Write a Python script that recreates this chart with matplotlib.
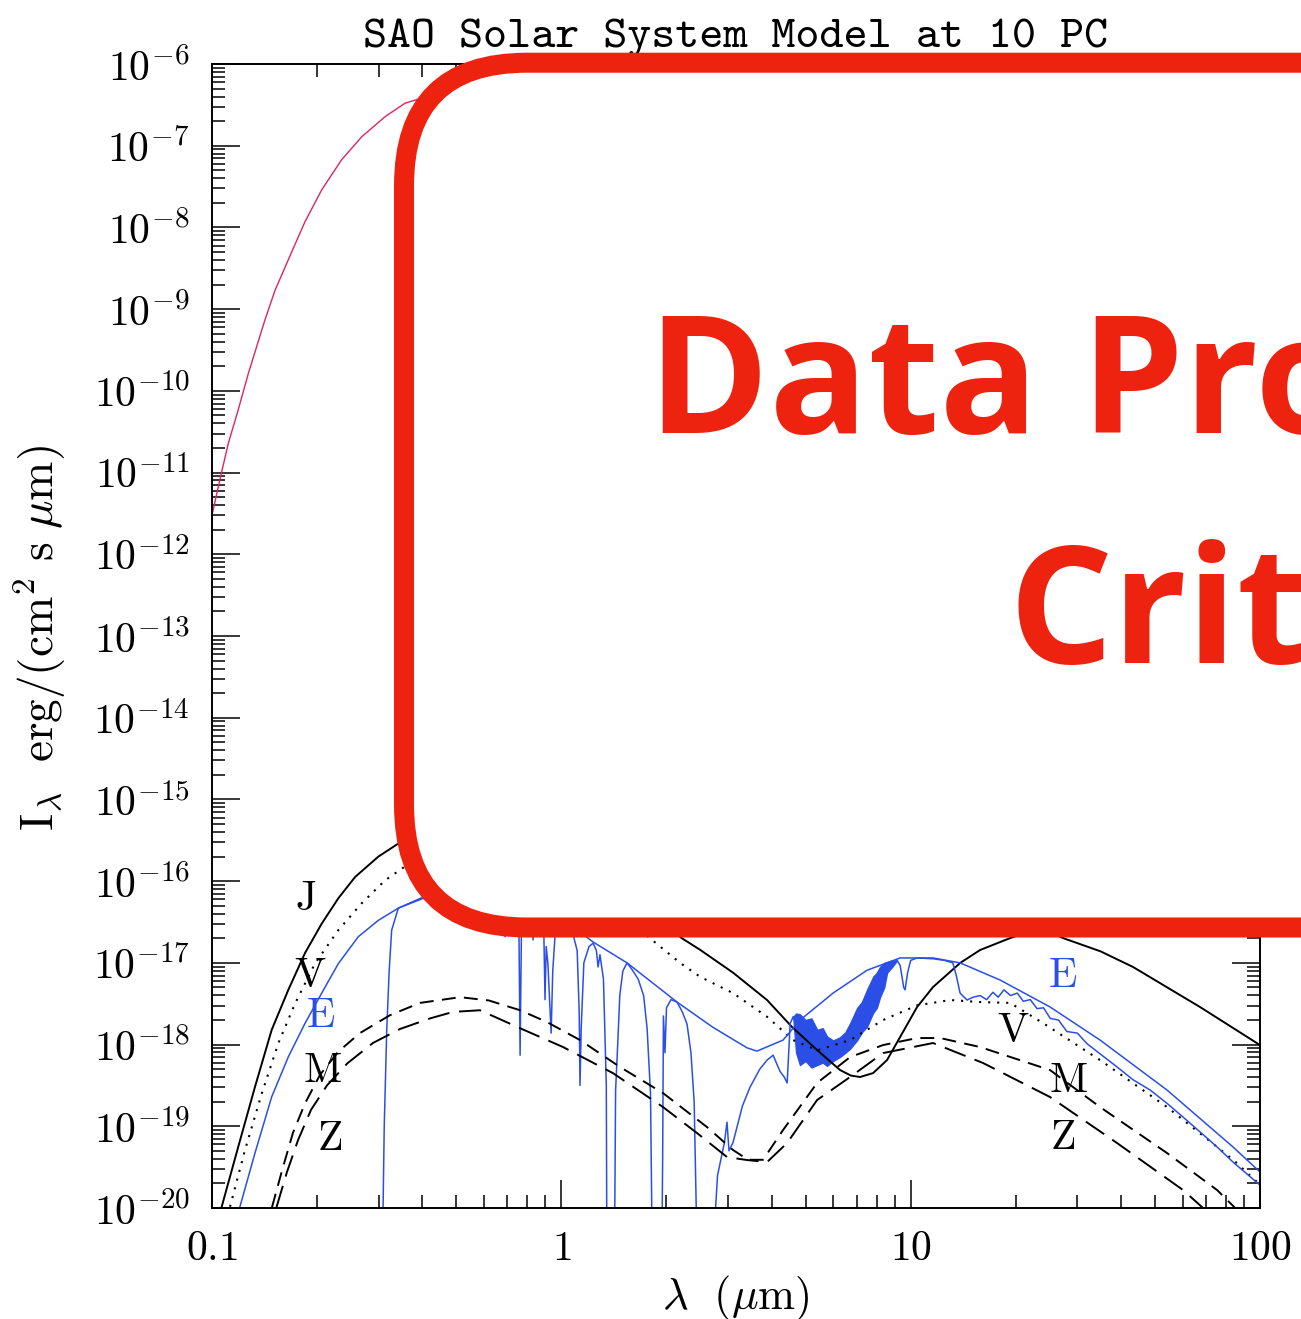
#%% Load modules
import numpy as np
import matplotlib as mpl
import matplotlib.pyplot as plt
from matplotlib.patches import FancyBboxPatch
from matplotlib.ticker import LogLocator, NullFormatter

#%% Curves: wavelength (micron) and log10 I_lambda
sun_lam = [0.100, 0.1066, 0.1114, 0.1189, 0.1270, 0.1418, 0.1515, 0.1691, 0.1846, 0.2061,
           0.2351, 0.2684, 0.3129, 0.3568, 0.4256, 0.50, 0.60, 0.76, 1.01, 1.5, 2.0, 3.0, 4.0,
           6.0, 10.0, 20.0, 30.0, 60.0, 100.0]
sun_logI = [-11.52, -10.99, -10.64, -10.23, -9.79, -9.13, -8.77, -8.30, -7.93, -7.54, -7.17,
            -6.89, -6.645, -6.48, -6.38, -6.35, -6.37, -6.45, -6.75, -7.15, -7.60, -8.20, -8.70,
            -9.45, -10.30, -11.50, -12.20, -13.40, -14.30]

jup_lam = [0.1066, 0.1189, 0.1327, 0.1482, 0.1654, 0.1846, 0.2061, 0.2299, 0.2567, 0.2993,
           0.3415, 0.42, 0.50, 0.70, 1.00, 1.50, 2.216, 2.495, 3.101, 3.881, 4.577, 5.396,
           6.281, 6.75, 7.164, 7.806, 8.56, 9.327, 10.43, 11.59, 13.85, 15.80, 19.26, 23.5,
           27.32, 35.0, 43.33, 67.38, 100.0]
jup_logI = [-19.985, -19.25, -18.52, -17.82, -17.33, -16.88, -16.52, -16.21, -15.95, -15.70,
            -15.54, -15.40, -15.33, -15.40, -15.70, -16.12, -16.70, -16.84, -17.12, -17.455,
            -17.786, -18.067, -18.312, -18.38, -18.397, -18.349, -18.189, -17.908, -17.541,
            -17.296, -17.002, -16.843, -16.697, -16.574, -16.697, -16.86, -17.051, -17.541,
            -18.006]

ven_lam = [0.1126, 0.1243, 0.1388, 0.1548, 0.1728, 0.1970, 0.2299, 0.2684, 0.3129, 0.3568,
           0.45, 0.55, 0.75, 1.00, 1.40, 1.795, 2.187, 2.495, 3.101, 3.881, 4.607, 5.40, 6.708,
           8.337, 10.43, 12.97, 15.80, 19.26, 23.93, 34.85, 54.2, 83.75, 98.8]
ven_logI = [-19.985, -19.29, -18.60, -17.985, -17.50, -17.01, -16.60, -16.27, -15.99, -15.82,
            -15.68, -15.64, -15.72, -15.92, -16.30, -16.70, -17.00, -17.17, -17.37, -17.66,
            -17.945, -18.07, -17.945, -17.70, -17.52, -17.455, -17.48, -17.49, -17.737, -18.19,
            -18.765, -19.41, -19.695]

# Earth: smooth envelope
earth_lam = [0.1202, 0.1327, 0.1482, 0.1654, 0.1846, 0.2061, 0.2299, 0.2623, 0.2993, 0.3415,
             0.4256, 0.55, 0.75, 1.00, 1.233, 1.542, 2.144, 2.719, 3.401, 3.632, 4.312, 4.824,
             5.997, 7.503, 9.327, 11.59, 13.85, 18.03, 25.06, 34.85, 54.2, 83.75, 100.0]
earth_logI = [-19.985, -19.33, -18.64, -18.15, -17.74, -17.37, -17.01, -16.68, -16.48, -16.33,
              -16.17, -16.08, -16.20, -16.45, -16.745, -17.00, -17.48, -17.79, -18.04, -18.08,
              -17.945, -17.70, -17.37, -17.09, -16.94, -16.94, -17.00, -17.21, -17.54, -17.945,
              -18.557, -19.254, -19.56]

# Earth: detailed spectrum, UV to 4.6 micron
earth_uv_lam = [0.3076, 0.3112, 0.3164, 0.3215, 0.3268, 0.3415, 0.40, 0.50, 0.60, 0.685, 0.690,
                0.695, 0.755, 0.762, 0.770, 0.825, 0.830, 0.835, 0.890, 0.898, 0.905, 0.915,
                0.935, 0.945, 0.96, 1.08, 1.11, 1.125, 1.131, 1.14, 1.16, 1.20, 1.233, 1.26,
                1.274, 1.29, 1.32, 1.345, 1.35, 1.42, 1.43, 1.45, 1.47, 1.50, 1.542, 1.58,
                1.604, 1.66, 1.72, 1.76, 1.80, 1.82, 1.94, 1.95, 1.96, 1.98, 2.00, 2.06, 2.144,
                2.22, 2.29, 2.35, 2.40, 2.446, 2.72, 2.80, 2.93, 2.98, 3.02, 3.10, 3.30, 3.47,
                3.70, 3.88, 4.04, 4.15, 4.23, 4.35, 4.43, 4.52, 4.61]
earth_uv_logI = [-20.5, -19.0, -17.82, -17.10, -16.60, -16.33, -16.20, -16.10, -16.10, -16.20,
                 -16.68, -16.22, -16.28, -18.13, -16.32, -16.40, -16.72, -16.42, -16.50, -17.45,
                 -16.80, -17.00, -17.86, -17.10, -16.65, -16.65, -16.85, -17.60, -18.50, -17.80,
                 -17.00, -16.80, -16.76, -16.85, -17.05, -16.90, -17.20, -18.50, -20.5, -20.5,
                 -18.56, -18.00, -17.40, -17.10, -17.00, -17.06, -17.10, -17.20, -17.40, -17.80,
                 -18.60, -20.5, -20.5, -19.40, -17.65, -18.10, -17.55, -17.45, -17.48, -17.60,
                 -17.75, -18.10, -18.70, -20.5, -20.5, -19.60, -19.20, -18.95, -19.30, -19.20,
                 -18.75, -18.52, -18.30, -18.19, -18.13, -18.25, -18.33, -18.40, -18.47, -17.74,
                 -17.66]

# Earth: dense 6 micron water band, upper and lower edges
band_lam = [4.61, 4.70, 4.82, 5.00, 5.20, 5.40, 5.60, 5.76, 6.00, 6.28, 6.50, 6.71, 7.03, 7.25,
            7.50, 7.81, 8.00, 8.17, 8.40, 8.56, 8.85, 9.14]
band_hi = [-17.66, -17.62, -17.63, -17.70, -17.68, -17.82, -17.80, -17.90, -17.95, -17.91,
           -17.85, -17.74, -17.55, -17.48, -17.33, -17.17, -17.12, -17.05, -17.00, -16.99,
           -16.97, -16.97]
band_lo = [-17.66, -18.10, -18.25, -18.20, -18.28, -18.25, -18.22, -18.26, -18.20, -18.15,
           -18.10, -18.05, -17.945, -17.85, -17.78, -17.61, -17.55, -17.42, -17.30, -17.12,
           -17.05, -16.97]

# Earth: detailed spectrum beyond 9 micron
earth_ir_lam = [9.14, 9.33, 9.55, 9.64, 9.80, 10.0, 10.43, 11.6, 12.5, 13.2, 13.5, 13.85, 14.5,
                15.1, 15.8, 16.5, 17.2, 17.8, 18.5, 19.3, 20.2, 21.0, 22.0, 23.0, 24.0, 25.1,
                26.5, 28.0, 30.0, 32.0, 35.0, 39.0, 43.3, 48.5, 54.2, 60.2, 67.4, 75.4, 83.8,
                100.0]
earth_ir_logI = [-16.97, -17.03, -17.30, -17.33, -17.12, -16.97, -16.94, -16.95, -16.97, -17.00,
                 -17.15, -17.37, -17.455, -17.42, -17.40, -17.45, -17.36, -17.42, -17.33, -17.40,
                 -17.37, -17.47, -17.45, -17.56, -17.55, -17.68, -17.70, -17.84, -17.86, -17.99,
                 -18.12, -18.275, -18.43, -18.557, -18.72, -18.887, -19.07, -19.254, -19.44,
                 -19.72]

mars_lam = [0.1485, 0.1587, 0.1705, 0.1846, 0.2038, 0.2294, 0.265, 0.3233, 0.394, 0.513, 0.62,
            0.762, 0.910, 1.131, 1.473, 1.955, 2.613, 3.101, 3.423, 3.780, 4.312, 5.396, 6.708,
            8.337, 10.43, 12.14, 15.80, 25.06, 34.85, 54.2, 75.4, 84.9]
mars_logI = [-19.99, -19.54, -19.08, -18.72, -18.37, -18.09, -17.86, -17.64, -17.49, -17.42,
             -17.46, -17.58, -17.725, -17.945, -18.275, -18.594, -19.01, -19.29, -19.41, -19.41,
             -19.046, -18.47, -18.153, -18.006, -17.92, -17.92, -18.03, -18.312, -18.765,
             -19.328, -19.781, -20.0]

zodi_lam = [0.153, 0.1639, 0.1763, 0.1920, 0.2134, 0.2440, 0.2890, 0.3450, 0.4208, 0.490,
            0.585, 0.762, 1.011, 1.406, 1.955, 2.446, 2.981, 3.401, 3.881, 4.429, 5.396, 6.708,
            8.337, 11.59, 16.12, 25.06, 38.98, 60.24, 68.7]
zodi_logI = [-19.99, -19.56, -19.17, -18.80, -18.50, -18.23, -17.98, -17.81, -17.68, -17.60,
             -17.58, -17.80, -18.03, -18.35, -18.765, -19.083, -19.377, -19.413, -19.438,
             -19.205, -18.679, -18.397, -18.104, -17.981, -18.226, -18.642, -19.205, -19.781,
             -20.0]

x_ticks = [0.1, 1, 10, 100]
x_ticklabels = ['0.1', '1', '10', '100']
y_exps = list(range(-20, -5))

# curve labels: text, wavelength, log10 I, colour
curve_labels = [('J', 0.185, -16.21, 'k'), ('V', 0.191, -17.15, 'k'), ('E', 0.204, -17.64, 'b'),
                ('M', 0.2065, -18.31, 'k'), ('Z', 0.2177, -19.14, 'k'),
                ('E', 27.3, -17.15, 'b'), ('V', 19.65, -17.82, 'k'),
                ('M', 28.2, -18.43, 'k'), ('Z', 27.3, -19.13, 'k')]

#%% Plot
mpl.rcParams['mathtext.fontset'] = 'cm'
mpl.rcParams['lines.scale_dashes'] = False
mpl.rcParams['axes.linewidth'] = 1.4

blue = '#2b4fe6'
red = '#ee230f'

fig = plt.figure(figsize=(13.01, 13.19), dpi=100)
ax = fig.add_axes([212 / 1301, 1 - 1208 / 1319, 1048 / 1301, 1144 / 1319])
ax.set_xscale('log')
ax.set_yscale('log')
ax.set_xlim(0.1, 100)
ax.set_ylim(1e-20, 1e-6)


def pts(lam, logI):
    return np.array(lam), 10.0 ** np.array(logI)


ax.plot(*pts(sun_lam, sun_logI), color='#e0245e', lw=1.0)
ax.plot(*pts(jup_lam, jup_logI), color='k', lw=1.4)
ax.plot(*pts(ven_lam, ven_logI), color='k', lw=1.5, dashes=(1.5, 5.0))
ax.plot(*pts(earth_lam, earth_logI), color=blue, lw=1.1)
ax.plot(*pts(earth_uv_lam, earth_uv_logI), color=blue, lw=1.1)
ax.fill_between(band_lam, 10.0 ** np.array(band_hi), 10.0 ** np.array(band_lo),
                color=blue, lw=1.0)
ax.plot(*pts(earth_ir_lam, earth_ir_logI), color=blue, lw=1.1)
ax.plot(*pts(mars_lam, mars_logI), color='k', lw=1.4, dashes=(10, 6))
ax.plot(*pts(zodi_lam, zodi_logI), color='k', lw=1.4, dashes=(16, 7))

for txt, lam, logI, c in curve_labels:
    ax.text(lam, 10.0 ** logI, r'$\mathrm{%s}$' % txt, fontsize=30, ha='center',
            va='center', color=blue if c == 'b' else 'k')

ax.set_xticks(x_ticks, ['$%s$' % s for s in x_ticklabels])
ax.set_yticks([10.0 ** e for e in y_exps], ['$10^{%d}$' % e for e in y_exps])
for axis in (ax.xaxis, ax.yaxis):
    axis.set_minor_locator(LogLocator(base=10, subs=np.arange(2, 10), numticks=200))
    axis.set_minor_formatter(NullFormatter())
ax.tick_params(which='both', direction='in', top=True, right=True, width=1.1, labelsize=30)
ax.tick_params(which='major', length=20)
ax.tick_params(which='minor', length=9.5)
ax.tick_params(axis='y', pad=16)
ax.tick_params(axis='x', pad=14)

ax.set_title('SAO Solar System Model at 10 PC', fontfamily='cmtt10', fontsize=33, pad=12)
fig.text(40 / 1301, 1 - 638 / 1319, r'$\mathrm{I_{\lambda}\ \ erg/(cm^{2}\ s\ }\mu\mathrm{m)}$',
         rotation=90, ha='center', va='center', fontsize=34)
fig.text(736 / 1301, 1 - 1309 / 1319, r'$\lambda\ \ (\mu\mathrm{m})$', ha='center',
         va='baseline', fontsize=32)

#%% Red overlay card
ov = fig.add_axes([0, 0, 1, 1])
ov.set_xlim(0, 1301)
ov.set_ylim(1319, 0)
ov.axis('off')
ov.add_patch(FancyBboxPatch((404, 62.7), 1400, 927.5 - 62.7,
                            boxstyle='round,pad=0,rounding_size=123',
                            fc='white', ec=red, lw=14.4))
ov.text(648, 433, 'Data Pro', fontfamily='Open Sans', fontweight='bold', fontsize=118,
        color=red, ha='left', va='baseline')
ov.text(1009, 663, 'Crit', fontfamily='Open Sans', fontweight='bold', fontsize=118,
        color=red, ha='left', va='baseline')

fig.savefig('out.png', dpi=100)
